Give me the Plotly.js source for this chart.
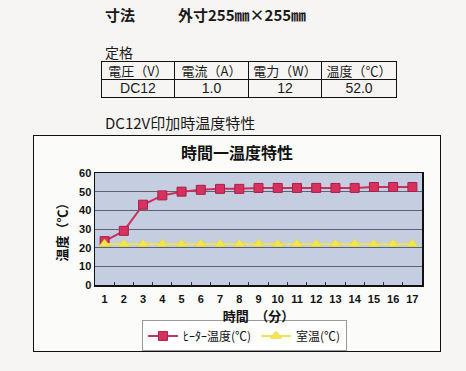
<!DOCTYPE html>
<html>
<head>
<meta charset="utf-8">
<script src="https://cdn.plot.ly/plotly-3.0.1.min.js"></script>
<style>
  html, body { margin: 0; padding: 0; }
  body { width: 466px; height: 371px; background: #f7f5f3; position: relative; overflow: hidden;
         font-family: "Noto Sans CJK JP", "Liberation Sans", sans-serif; color: #1a1a1a; }
  .txt { position: absolute; white-space: nowrap; line-height: 1; }
  table { position: absolute; left: 101px; top: 61px; border-collapse: collapse; border: 1.5px solid #111; }
  td { border: 1px solid #111; height: 17px; padding: 0; text-align: center; font-size: 13px; line-height: 17px; overflow: hidden; }
  #chartbox { position: absolute; left: 33px; top: 135px; width: 406px; height: 215px;
              border: 1.5px solid #111; background: #fbfbfa; }
  #chart { width: 406px; height: 215px; }
</style>
</head>
<body>
<div class="txt" style="left:105px; top:7px; font-size:15px; font-weight:bold;">寸法</div>
<div class="txt" style="left:178px; top:7px; font-size:15px; font-weight:bold;">外寸255㎜×255㎜</div>
<div class="txt" style="left:105px; top:45px; font-size:14px;">定格</div>
<table id="spec"></table>
<div class="txt" style="left:105px; top:115px; font-size:15px;">DC12V印加時温度特性</div>
<div id="chartbox"><div id="chart"></div></div>
<script>
// ---- data ----
const specHeaders = ["電圧（V）", "電流（A）", "電力（W）", "温度（℃）"];
const specValues  = ["DC12", "1.0", "12", "52.0"];

const minutes    = ["1","2","3","4","5","6","7","8","9","10","11","12","13","14","15","16","17"];
const heaterTemp = [23.5, 29, 43, 48, 50, 51, 51.5, 51.5, 52, 52, 52, 52, 52, 52, 52.5, 52.5, 52.5];
const roomTemp   = [22, 22, 22, 22, 22, 22, 22, 22, 22, 22, 22, 22, 22, 22, 22, 22, 22];
const yTickVals  = [0, 10, 20, 30, 40, 50, 60];

const chartTitle = "時間一温度特性";
const xTitle = "時間　（分）";
const yTitle = "温度（℃）";
const heaterName = "ﾋｰﾀｰ温度(℃)";
const roomName = "室温(℃)";

// ---- spec table ----
const colW = [72, 73, 72, 74];
const tbl = document.getElementById("spec");
[specHeaders, specValues].forEach((row, r) => {
  const tr = document.createElement("tr");
  row.forEach((v, i) => {
    const td = document.createElement("td");
    td.textContent = v;
    td.style.width = colW[i] + "px";
    if (r === 1) td.style.fontFamily = "Liberation Sans, Arial, sans-serif";
    if (r === 1) td.style.fontSize = "14px";
    tr.appendChild(td);
  });
  tbl.appendChild(tr);
});

// ---- chart ----
const font = "Noto Sans CJK JP, Liberation Sans, sans-serif";
const traces = [
  {
    x: minutes, y: heaterTemp, name: heaterName, type: "scatter", mode: "lines+markers",
    line: { color: "#c8305e", width: 2 },
    marker: { symbol: "square", size: 9, color: "#d8305f", line: { color: "#a82048", width: 1 } }
  },
  {
    x: minutes, y: roomTemp, name: roomName, type: "scatter", mode: "lines+markers",
    line: { color: "#ece35a", width: 2 },
    marker: { symbol: "triangle-up", size: 10, color: "#f2e64a", line: { color: "#e0d040", width: 0.5 } }
  }
];

const layout = {
  width: 406, height: 215,
  margin: { l: 61, r: 18, t: 37, b: 66, autoexpand: false },
  paper_bgcolor: "rgba(0,0,0,0)",
  plot_bgcolor: "#c5cde1",
  showlegend: true,
  title: {
    text: chartTitle, x: 0.5, xref: "container", xanchor: "center",
    y: 0.92, yref: "container", yanchor: "middle",
    font: { family: font, size: 16, color: "#111", weight: "bold" }
  },
  xaxis: {
    type: "category",
    range: [-0.5, minutes.length - 0.5],
    title: { text: xTitle, font: { family: font, size: 13, color: "#111", weight: "bold" }, standoff: 8 },
    tickfont: { family: "Liberation Sans, Arial, sans-serif", size: 11, color: "#111", weight: "bold" },
    tickangle: 0, ticklabelstandoff: 3,
    showgrid: false, zeroline: false,
    tickson: "boundaries", ticks: "inside", ticklen: 3, tickcolor: "#333",
    showline: true, linecolor: "#111", linewidth: 1.5, mirror: true,
    automargin: false
  },
  yaxis: {
    range: [0, 60], tickvals: yTickVals, ticktext: yTickVals.map(String),
    title: { text: yTitle, font: { family: font, size: 13, color: "#111", weight: "bold" }, standoff: 8 },
    tickfont: { family: "Liberation Sans, Arial, sans-serif", size: 11, color: "#111", weight: "bold" },
    showgrid: true, gridcolor: "#5e6270", gridwidth: 1, zeroline: false,
    showline: true, linecolor: "#111", linewidth: 1.5, mirror: true,
    ticks: "", automargin: false
  },
  legend: {
    orientation: "h", x: 0.457, xanchor: "center", y: -0.455, yanchor: "middle",
    bgcolor: "#ffffff", bordercolor: "#9a9a9a", borderwidth: 1,
    font: { family: font, size: 12, color: "#111" },
    itemwidth: 30, tracegroupgap: 0
  }
};

Plotly.newPlot("chart", traces, layout, { displayModeBar: false, staticPlot: true });
</script>
</body>
</html>
